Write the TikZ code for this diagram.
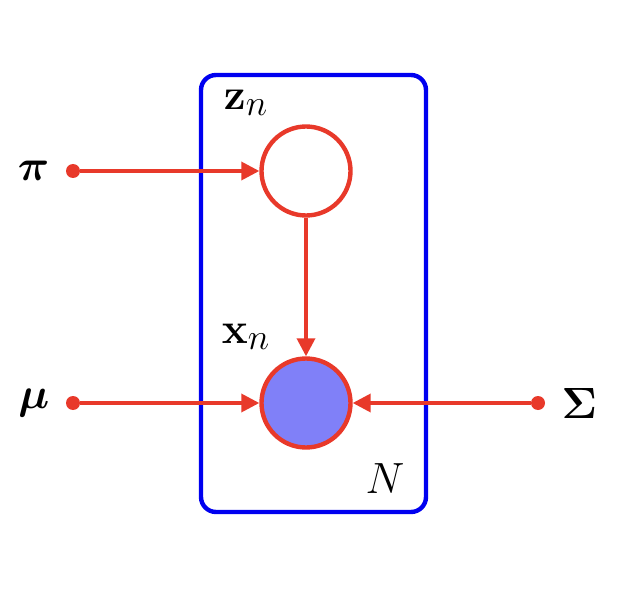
\documentclass[tikz,border=0pt]{standalone}
\usepackage{amsmath,amssymb}
\usepackage{xcolor}
\usepackage{tikz}
\usetikzlibrary{arrows.meta,positioning}
\definecolor{gmRed}{HTML}{E8392A}
\definecolor{gmBlue}{HTML}{0000F0}
\definecolor{gmFill}{HTML}{8080F8}

\begin{document}
\begin{tikzpicture}[font=\fontsize{28}{32}\selectfont,
  dot/.style={circle,fill=gmRed,inner sep=0pt,minimum size=0.28cm},
  var/.style={circle,draw=gmRed,line width=2.5pt,minimum size=1.78cm,inner sep=0pt},
  edge/.style={gmRed,line width=2pt,-{Triangle[length=3.6mm,width=3.6mm]}}]
\useasboundingbox (0,0) rectangle (12.84,12.2);
% plate
\node[draw=gmBlue,line width=2.5pt,rounded corners=0.3cm,minimum width=4.5cm,minimum height=8.74cm,inner sep=0pt] (plate) at (6.27,6.33) {};
\node (N) at (7.7,2.62) {$N$};
% latent and observed variables
\node[var,fill=white] (z) at (6.12,8.78) {};
\node[var,fill=gmFill] (x) at (6.12,4.14) {};
\node (zlab) at (4.92,10.14) {$\mathbf{z}_n$};
\node (xlab) at (4.92,5.46) {$\mathbf{x}_n$};
% parameters
\node[dot] (pi) at (1.46,8.78) {};
\node[dot] (mu) at (1.46,4.14) {};
\node[dot] (sig) at (10.76,4.14) {};
\node[left=0.2cm of pi] {$\boldsymbol{\pi}$};
\node[left=0.2cm of mu] {$\boldsymbol{\mu}$};
\node[right=0.2cm of sig] {$\boldsymbol{\Sigma}$};
\draw[edge] (pi) -- (z);
\draw[edge] (mu) -- (x);
\draw[edge] (sig) -- (x);
\draw[edge] (z) -- (x);
\end{tikzpicture}
\end{document}
